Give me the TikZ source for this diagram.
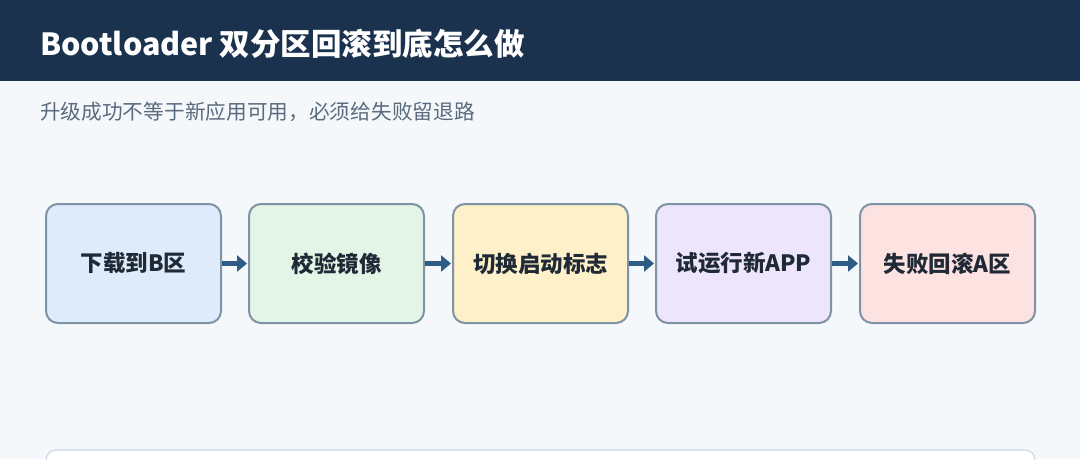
\documentclass[tikz,border=0pt]{standalone}
\usepackage{fontspec}
\setmainfont{Noto Sans CJK SC}
\usetikzlibrary{arrows.meta}
\definecolor{bg}{HTML}{F5F8FB}
\definecolor{navy}{HTML}{1A324D}
\definecolor{subgray}{HTML}{5A6B7D}
\definecolor{edge}{HTML}{7F93A6}
\definecolor{arrowc}{HTML}{2F5C85}
\definecolor{txt}{HTML}{1F2A36}
\definecolor{fblue}{HTML}{DDEBFB}
\definecolor{fgreen}{HTML}{E2F5E7}
\definecolor{fyellow}{HTML}{FEF0C8}
\definecolor{fpurple}{HTML}{ECE5FC}
\definecolor{fpink}{HTML}{FDE2E2}
\definecolor{panelline}{HTML}{D0D8E2}
\tikzset{
  stepbox/.style={draw=edge, line width=2pt, rounded corners=12pt, minimum width=175pt, minimum height=119pt, inner sep=0pt, text=txt, font=\bfseries\fontsize{22.5pt}{26pt}\selectfont},
  flow/.style={draw=arrowc, line width=4.5pt, -{Triangle[length=10pt,width=16pt]}, shorten >=1pt}
}
\begin{document}
\begin{tikzpicture}[x=1pt,y=-1pt]
\useasboundingbox (0,0) rectangle (1080,459);
\fill[bg] (0,0) rectangle (1080,459);
\fill[navy] (0,0) rectangle (1080,81);
\node[anchor=base west, text=white, font=\bfseries\fontsize{30.5pt}{34pt}\selectfont, inner sep=0pt] (title) at (40,55) {Bootloader 双分区回滚到底怎么做};
\node[anchor=base west, text=subgray, font=\fontsize{20.7pt}{24pt}\selectfont, inner sep=0pt] (sub) at (40,119) {升级成功不等于新应用可用，必须给失败留退路};
\node[stepbox, fill=fblue] (b1) at (133.5,263.5) {下载到B区};
\node[stepbox, fill=fgreen] (b2) at (336.5,263.5) {校验镜像};
\node[stepbox, fill=fyellow] (b3) at (540.5,263.5) {切换启动标志};
\node[stepbox, fill=fpurple] (b4) at (743.5,263.5) {试运行新APP};
\node[stepbox, fill=fpink] (b5) at (947.5,263.5) {失败回滚A区};
\draw[flow] (b1) -- (b2);
\draw[flow] (b2) -- (b3);
\draw[flow] (b3) -- (b4);
\draw[flow] (b4) -- (b5);
\draw[draw=panelline, fill=white, line width=1.2pt, rounded corners=10pt] (46,470) -- (46,450) -- (1035,450) -- (1035,470);
\end{tikzpicture}
\end{document}
